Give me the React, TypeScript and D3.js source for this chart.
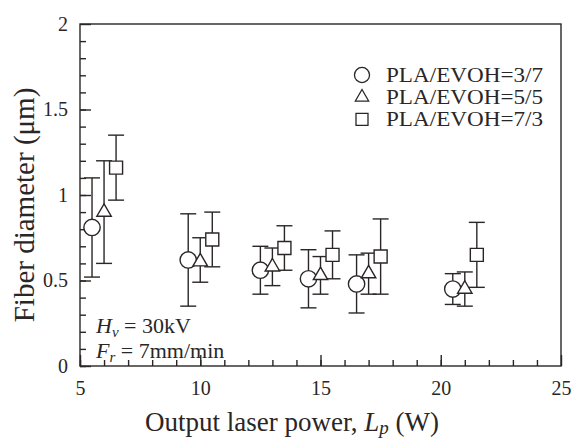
import React, { useEffect, useRef } from 'react';
import * as d3 from 'd3';

// laser power settings (W); markers are shifted sideways per blend ratio
const laserPower = [6, 10, 13, 15, 17, 21];

// PLA/EVOH = 3/7 (circle)
const mean37 = [0.81, 0.62, 0.56, 0.51, 0.48, 0.45];
const hi37 = [1.10, 0.89, 0.70, 0.68, 0.65, 0.54];
const lo37 = [0.52, 0.35, 0.42, 0.34, 0.31, 0.36];

// PLA/EVOH = 5/5 (triangle)
const mean55 = [0.90, 0.61, 0.58, 0.53, 0.54, 0.45];
const hi55 = [1.20, 0.75, 0.69, 0.64, 0.66, 0.55];
const lo55 = [0.60, 0.49, 0.47, 0.42, 0.42, 0.35];

// PLA/EVOH = 7/3 (square)
const mean73 = [1.16, 0.74, 0.69, 0.65, 0.64, 0.65];
const hi73 = [1.35, 0.90, 0.82, 0.79, 0.86, 0.84];
const lo73 = [0.97, 0.58, 0.56, 0.51, 0.42, 0.46];

const seriesNames = ['PLA/EVOH=3/7', 'PLA/EVOH=5/5', 'PLA/EVOH=7/3'];

const xTicks = [5, 10, 15, 20, 25];
const yTicks = [0, 0.5, 1, 1.5, 2];

const W = 574, H = 440;
const FONT = '"Liberation Serif", "Times New Roman", serif';
const INK = '#2a2626';

export default function App() {
  const ref = useRef<SVGSVGElement>(null);

  useEffect(() => {
    const svg = d3.select(ref.current);
    svg.selectAll('*').remove();

    const x = d3.scaleLinear().domain([5, 25]).range([80, 561]);
    const y = d3.scaleLinear().domain([0, 2]).range([366, 24]);

    const g = svg.append('g');

    // frame
    g.append('rect')
      .attr('x', 80).attr('y', 24)
      .attr('width', 481).attr('height', 342)
      .attr('fill', 'none').attr('stroke', INK).attr('stroke-width', 1.4);

    // minor ticks
    g.append('g').attr('transform', 'translate(0,366)')
      .call(d3.axisBottom(x).tickValues(d3.range(5, 25, 1)).tickSize(-6).tickFormat(() => ''))
      .call(a => a.select('.domain').remove());
    g.append('g').attr('transform', 'translate(80,0)')
      .call(d3.axisLeft(y).tickValues(d3.range(0, 2, 0.1)).tickSize(-6).tickFormat(() => ''))
      .call(a => a.select('.domain').remove());

    // major ticks + labels
    const xa = g.append('g').attr('transform', 'translate(0,366)')
      .call(d3.axisBottom(x).tickValues(xTicks).tickSize(-11).tickPadding(15).tickFormat(d => String(d)));
    const ya = g.append('g').attr('transform', 'translate(80,0)')
      .call(d3.axisLeft(y).tickValues(yTicks).tickSize(-11).tickPadding(12).tickFormat(d => String(d)));
    [xa, ya].forEach(a => {
      a.select('.domain').remove();
      a.selectAll('text').attr('font-family', FONT).attr('font-size', 20).attr('fill', INK);
    });
    svg.selectAll('.tick line').attr('stroke', INK).attr('stroke-width', 1.4);

    // axis titles
    const xt = svg.append('text')
      .attr('x', 292).attr('y', 431).attr('text-anchor', 'middle')
      .attr('font-family', FONT).attr('font-size', 27).attr('fill', INK);
    xt.append('tspan').text('Output laser power, ');
    xt.append('tspan').attr('font-style', 'italic').text('L');
    xt.append('tspan').attr('font-style', 'italic').attr('font-size', 19).attr('dy', 3).text('p');
    xt.append('tspan').attr('dy', -3).text(' (W)');

    svg.append('text')
      .attr('transform', 'translate(34,205) rotate(-90)')
      .attr('text-anchor', 'middle')
      .attr('font-family', FONT).attr('font-size', 29).attr('fill', INK)
      .text('Fiber diameter (\u03bcm)');

    // conditions annotation
    const ann = [['H', 'v', ' = 30kV'], ['F', 'r', ' = 7mm/min']];
    ann.forEach((a, i) => {
      const t = svg.append('text')
        .attr('x', 96).attr('y', 333 + i * 25)
        .attr('font-family', FONT).attr('font-size', 22).attr('fill', INK);
      t.append('tspan').attr('font-style', 'italic').text(a[0]);
      t.append('tspan').attr('font-style', 'italic').attr('font-size', 15).attr('dy', 4).text(a[1]);
      t.append('tspan').attr('dy', -4).text(a[2]);
    });

    const series = [
      { mean: mean37, hi: hi37, lo: lo37, shape: d3.symbolCircle, size: 210, off: -0.5 },
      { mean: mean55, hi: hi55, lo: lo55, shape: d3.symbolTriangle, size: 90, off: 0 },
      { mean: mean73, hi: hi73, lo: lo73, shape: d3.symbolSquare, size: 169, off: 0.5 },
    ];

    const cap = 8;
    // error bars first
    series.forEach(s => {
      laserPower.forEach((p, i) => {
        const cx = x(p + s.off);
        const eb = g.append('g').attr('stroke', INK).attr('stroke-width', 1.4);
        eb.append('line').attr('x1', cx).attr('x2', cx).attr('y1', y(s.lo[i])).attr('y2', y(s.hi[i]));
        eb.append('line').attr('x1', cx - cap).attr('x2', cx + cap).attr('y1', y(s.hi[i])).attr('y2', y(s.hi[i]));
        eb.append('line').attr('x1', cx - cap).attr('x2', cx + cap).attr('y1', y(s.lo[i])).attr('y2', y(s.lo[i]));
      });
    });
    // markers on top
    series.forEach(s => {
      const sym = d3.symbol().type(s.shape).size(s.size);
      g.selectAll(null).data(laserPower).enter().append('path')
        .attr('d', sym)
        .attr('transform', (p, i) => `translate(${x(p + s.off)},${y(s.mean[i])})`)
        .attr('fill', 'white').attr('stroke', INK).attr('stroke-width', 1.4);
    });

    // legend
    const rowH = 22.2;
    seriesNames.forEach((name, i) => {
      const s = series[i];
      const cy = 75 + i * rowH;
      svg.append('path')
        .attr('d', d3.symbol().type(s.shape).size(s.size * 0.85)())
        .attr('transform', `translate(362,${cy})`)
        .attr('fill', 'white').attr('stroke', INK).attr('stroke-width', 1.3);
      svg.append('text')
        .attr('x', 386).attr('y', cy + 7)
        .attr('font-family', FONT).attr('font-size', 20).attr('fill', INK)
        .attr('textLength', 157).attr('lengthAdjust', 'spacingAndGlyphs')
        .text(name);
    });
  }, []);

  return (
    <svg ref={ref} width={W} height={H}
      style={{ position: 'absolute', left: 0, top: 0, background: 'white' }} />
  );
}
